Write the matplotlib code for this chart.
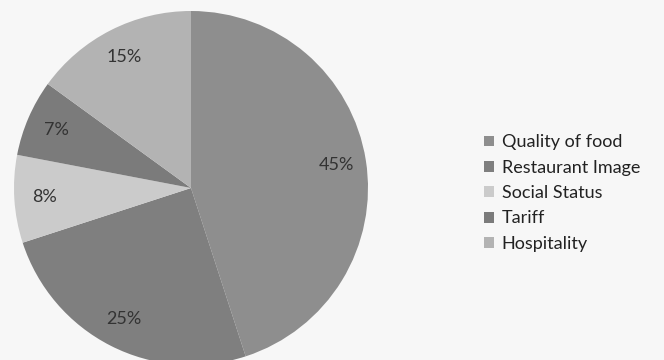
import matplotlib.pyplot as plt

# --- Factors and their share
factors = ["Quality of food", "Restaurant Image", "Social Status", "Tariff", "Hospitality"]
shares = [45, 25, 8, 7, 15]
greys = ["#8e8e8e", "#7f7f7f", "#cbcbcb", "#7b7b7b", "#b3b3b3"]

plt.rcParams["font.family"] = ["Lato", "DejaVu Sans"]

fig = plt.figure(figsize=(6.64, 3.6), dpi=100)
fig.patch.set_facecolor("#f7f7f7")
ax = fig.add_axes([0, 0, 1, 1])

wedges, texts, autotexts = ax.pie(
    shares, colors=greys, startangle=90, counterclock=False,
    center=(191, 172), radius=177, frame=True,
    autopct="%d%%", pctdistance=0.83,
    textprops={"fontsize": 13, "color": "#333333"},
)
ax.set_xlim(0, 664)
ax.set_ylim(0, 360)
ax.axis("off")

leg = ax.legend(
    wedges, factors, loc="upper left", bbox_to_anchor=(0.705, 0.672),
    frameon=False, fontsize=13, handlelength=0.55, handleheight=0.55,
    handletextpad=0.4, labelspacing=0.52,
)
for t in leg.get_texts():
    t.set_color("#222222")

fig.savefig("out.png", dpi=100, facecolor=fig.get_facecolor())
